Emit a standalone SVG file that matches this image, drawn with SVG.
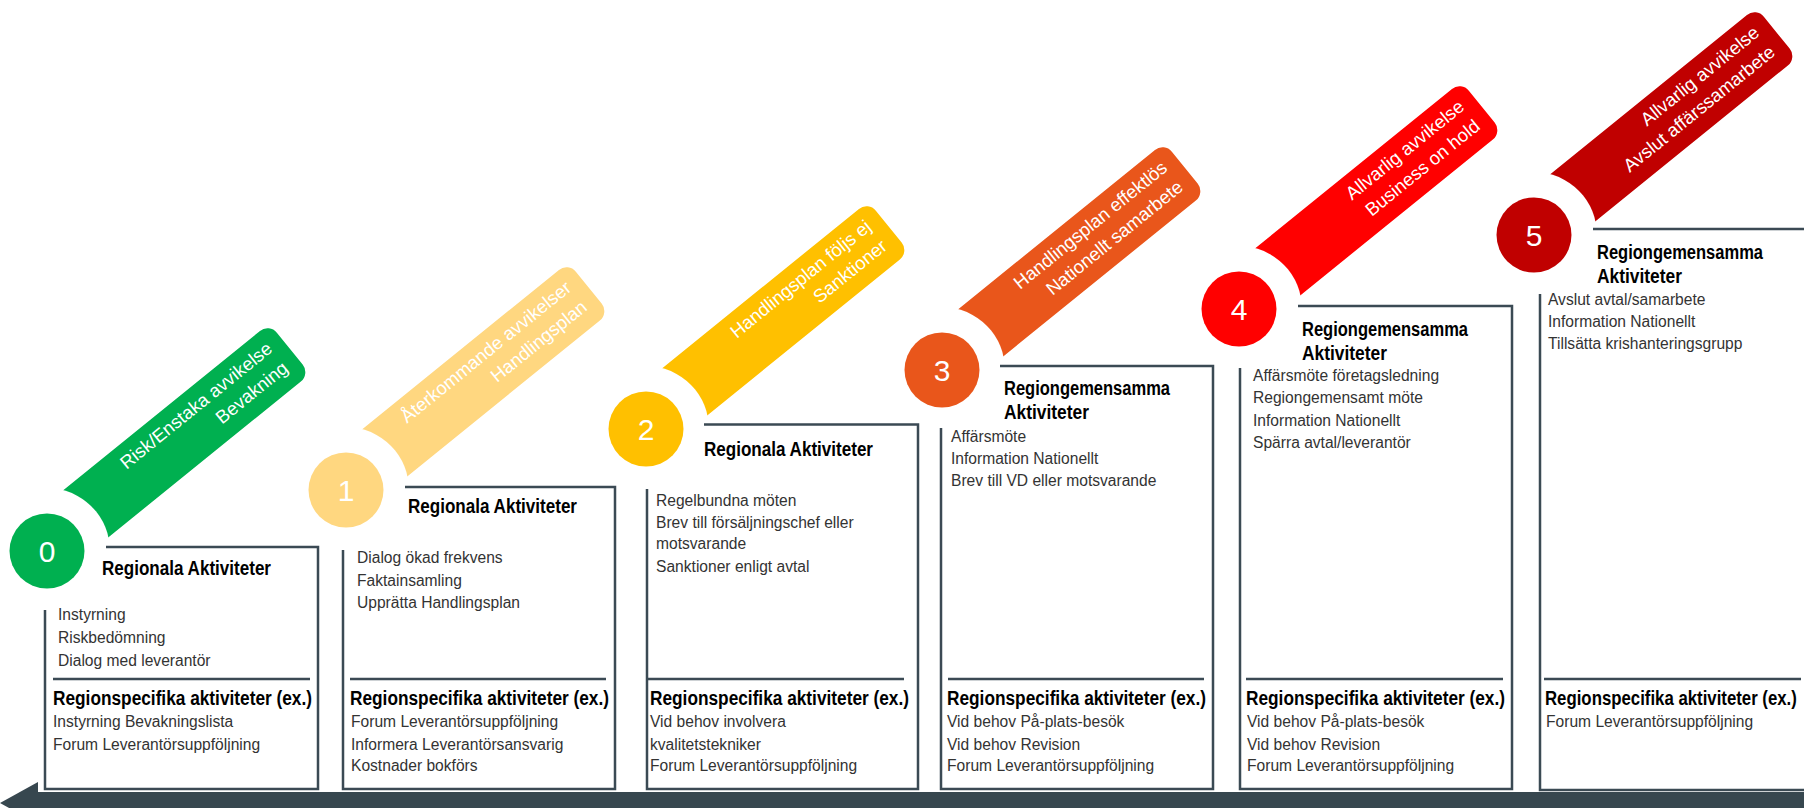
<svg xmlns="http://www.w3.org/2000/svg" width="1804" height="808" viewBox="0 0 1804 808">
<defs>
<style>
.ln{stroke:#3B4A54;stroke-width:2.5;fill:none}
.h{font-family:"Liberation Sans",Arial,sans-serif;font-weight:bold;font-size:20px;fill:#000}
.t{font-family:"Liberation Sans",Arial,sans-serif;font-size:15.6px;fill:#333}
.bt{font-family:"Liberation Sans",Arial,sans-serif;font-size:18.5px;fill:#fff;text-anchor:end}
.num{font-family:"Liberation Sans",Arial,sans-serif;font-size:30px;fill:#fff;text-anchor:middle}
</style>
<mask id="cut" maskUnits="userSpaceOnUse" x="-100" y="-100" width="520" height="200">
<rect x="-100" y="-100" width="520" height="200" fill="#fff"/>
<circle cx="0" cy="0" r="63" fill="#000"/>
</mask>
</defs>
<rect width="1804" height="808" fill="#fff"/>

<g id="connectors">
<rect x="36" y="792" width="1770" height="26" fill="#37474F"/>
<polygon points="0,803 38,782 38,824" fill="#37474F"/>
</g>

<g id="stage0">
<g transform="translate(47 551) rotate(-39)">
<rect x="0" y="-37" width="316" height="65" rx="12" fill="#00B050" mask="url(#cut)"/>
<text class="bt" x="302" y="-13">Risk/Enstaka avvikelse</text>
<text class="bt" x="302" y="12">Bevakning</text>
</g>
<circle cx="47" cy="551" r="37.5" fill="#00B050"/>
<text class="num" x="47" y="562">0</text>
<path class="ln" d="M106 547H318V789H45V610"/>
<path class="ln" d="M53 679H310"/>
<text class="h" x="102" y="575" textLength="169" lengthAdjust="spacingAndGlyphs">Regionala Aktiviteter</text>
<text class="t" x="58" y="620">Instyrning</text>
<text class="t" x="58" y="643">Riskbedömning</text>
<text class="t" x="58" y="666">Dialog med leverantör</text>
<text class="h" x="53" y="705" textLength="259" lengthAdjust="spacingAndGlyphs">Regionspecifika aktiviteter (ex.)</text>
<text class="t" x="53" y="727">Instyrning Bevakningslista</text>
<text class="t" x="53" y="750">Forum Leverantörsuppföljning</text>
</g>

<g id="stage1">
<g transform="translate(346 490) rotate(-39)">
<rect x="0" y="-37" width="316" height="65" rx="12" fill="#FFD780" mask="url(#cut)"/>
<text class="bt" x="302" y="-13">Återkommande avvikelser</text>
<text class="bt" x="302" y="12">Handlingsplan</text>
</g>
<circle cx="346" cy="490" r="37.5" fill="#FFD780"/>
<text class="num" x="346" y="501">1</text>
<path class="ln" d="M405 487H615V789H343V550"/>
<path class="ln" d="M350 679H606"/>
<text class="h" x="408" y="513" textLength="169" lengthAdjust="spacingAndGlyphs">Regionala Aktiviteter</text>
<text class="t" x="357" y="563">Dialog ökad frekvens</text>
<text class="t" x="357" y="586">Faktainsamling</text>
<text class="t" x="357" y="608">Upprätta Handlingsplan</text>
<text class="h" x="350" y="705" textLength="259" lengthAdjust="spacingAndGlyphs">Regionspecifika aktiviteter (ex.)</text>
<text class="t" x="351" y="727">Forum Leverantörsuppföljning</text>
<text class="t" x="351" y="750">Informera Leverantörsansvarig</text>
<text class="t" x="351" y="771">Kostnader bokförs</text>
</g>

<g id="stage2">
<g transform="translate(646 429) rotate(-39)">
<rect x="0" y="-37" width="316" height="65" rx="12" fill="#FFC000" mask="url(#cut)"/>
<text class="bt" x="302" y="-13">Handlingsplan följs ej</text>
<text class="bt" x="302" y="12">Sanktioner</text>
</g>
<circle cx="646" cy="429" r="37.5" fill="#FFC000"/>
<text class="num" x="646" y="440">2</text>
<path class="ln" d="M704 424.5H918V789H647V489"/>
<path class="ln" d="M647 679H904"/>
<text class="h" x="704" y="456" textLength="169" lengthAdjust="spacingAndGlyphs">Regionala Aktiviteter</text>
<text class="t" x="656" y="506">Regelbundna möten</text>
<text class="t" x="656" y="528">Brev till försäljningschef eller</text>
<text class="t" x="656" y="549">motsvarande</text>
<text class="t" x="656" y="572">Sanktioner enligt avtal</text>
<text class="h" x="650" y="705" textLength="259" lengthAdjust="spacingAndGlyphs">Regionspecifika aktiviteter (ex.)</text>
<text class="t" x="650" y="727">Vid behov involvera</text>
<text class="t" x="650" y="750">kvalitetstekniker</text>
<text class="t" x="650" y="771">Forum Leverantörsuppföljning</text>
</g>

<g id="stage3">
<g transform="translate(942 370) rotate(-39)">
<rect x="0" y="-37" width="316" height="65" rx="12" fill="#E9561B" mask="url(#cut)"/>
<text class="bt" x="302" y="-13">Handlingsplan effektlös</text>
<text class="bt" x="302" y="12">Nationellt samarbete</text>
</g>
<circle cx="942" cy="370" r="37.5" fill="#E9561B"/>
<text class="num" x="942" y="381">3</text>
<path class="ln" d="M1000 366H1213V789H941V428"/>
<path class="ln" d="M948 679H1204"/>
<text class="h" x="1004" y="395" textLength="166" lengthAdjust="spacingAndGlyphs">Regiongemensamma</text>
<text class="h" x="1004" y="419" textLength="85" lengthAdjust="spacingAndGlyphs">Aktiviteter</text>
<text class="t" x="951" y="442">Affärsmöte</text>
<text class="t" x="951" y="464">Information Nationellt</text>
<text class="t" x="951" y="486">Brev till VD eller motsvarande</text>
<text class="h" x="947" y="705" textLength="259" lengthAdjust="spacingAndGlyphs">Regionspecifika aktiviteter (ex.)</text>
<text class="t" x="947" y="727">Vid behov På-plats-besök</text>
<text class="t" x="947" y="750">Vid behov Revision</text>
<text class="t" x="947" y="771">Forum Leverantörsuppföljning</text>
</g>

<g id="stage4">
<g transform="translate(1239 309) rotate(-39)">
<rect x="0" y="-37" width="316" height="65" rx="12" fill="#FF0000" mask="url(#cut)"/>
<text class="bt" x="302" y="-13">Allvarlig avvikelse</text>
<text class="bt" x="302" y="12">Business on hold</text>
</g>
<circle cx="1239" cy="309" r="37.5" fill="#FF0000"/>
<text class="num" x="1239" y="320">4</text>
<path class="ln" d="M1298 306H1512V789H1240V368"/>
<path class="ln" d="M1246 679H1503"/>
<text class="h" x="1302" y="336" textLength="166" lengthAdjust="spacingAndGlyphs">Regiongemensamma</text>
<text class="h" x="1302" y="360" textLength="85" lengthAdjust="spacingAndGlyphs">Aktiviteter</text>
<text class="t" x="1253" y="381">Affärsmöte företagsledning</text>
<text class="t" x="1253" y="403">Regiongemensamt möte</text>
<text class="t" x="1253" y="426">Information Nationellt</text>
<text class="t" x="1253" y="448">Spärra avtal/leverantör</text>
<text class="h" x="1246" y="705" textLength="259" lengthAdjust="spacingAndGlyphs">Regionspecifika aktiviteter (ex.)</text>
<text class="t" x="1247" y="727">Vid behov På-plats-besök</text>
<text class="t" x="1247" y="750">Vid behov Revision</text>
<text class="t" x="1247" y="771">Forum Leverantörsuppföljning</text>
</g>

<g id="stage5">
<g transform="translate(1534 235) rotate(-39)">
<rect x="0" y="-37" width="316" height="65" rx="12" fill="#C00000" mask="url(#cut)"/>
<text class="bt" x="302" y="-13">Allvarlig avvikelse</text>
<text class="bt" x="302" y="12">Avslut affärssamarbete</text>
</g>
<circle cx="1534" cy="235" r="37.5" fill="#C00000"/>
<text class="num" x="1534" y="246">5</text>
<path class="ln" d="M1593 229H1806M1806 790H1540V294"/>
<path class="ln" d="M1544 679H1801"/>
<text class="h" x="1597" y="259" textLength="166" lengthAdjust="spacingAndGlyphs">Regiongemensamma</text>
<text class="h" x="1597" y="283" textLength="85" lengthAdjust="spacingAndGlyphs">Aktiviteter</text>
<text class="t" x="1548" y="305">Avslut avtal/samarbete</text>
<text class="t" x="1548" y="327">Information Nationellt</text>
<text class="t" x="1548" y="349">Tillsätta krishanteringsgrupp</text>
<text class="h" transform="translate(1545 705) scale(0.84 1)" x="0" y="0">Regionspecifika aktiviteter (ex.)</text>
<text class="t" x="1546" y="727">Forum Leverantörsuppföljning</text>
</g>
</svg>
